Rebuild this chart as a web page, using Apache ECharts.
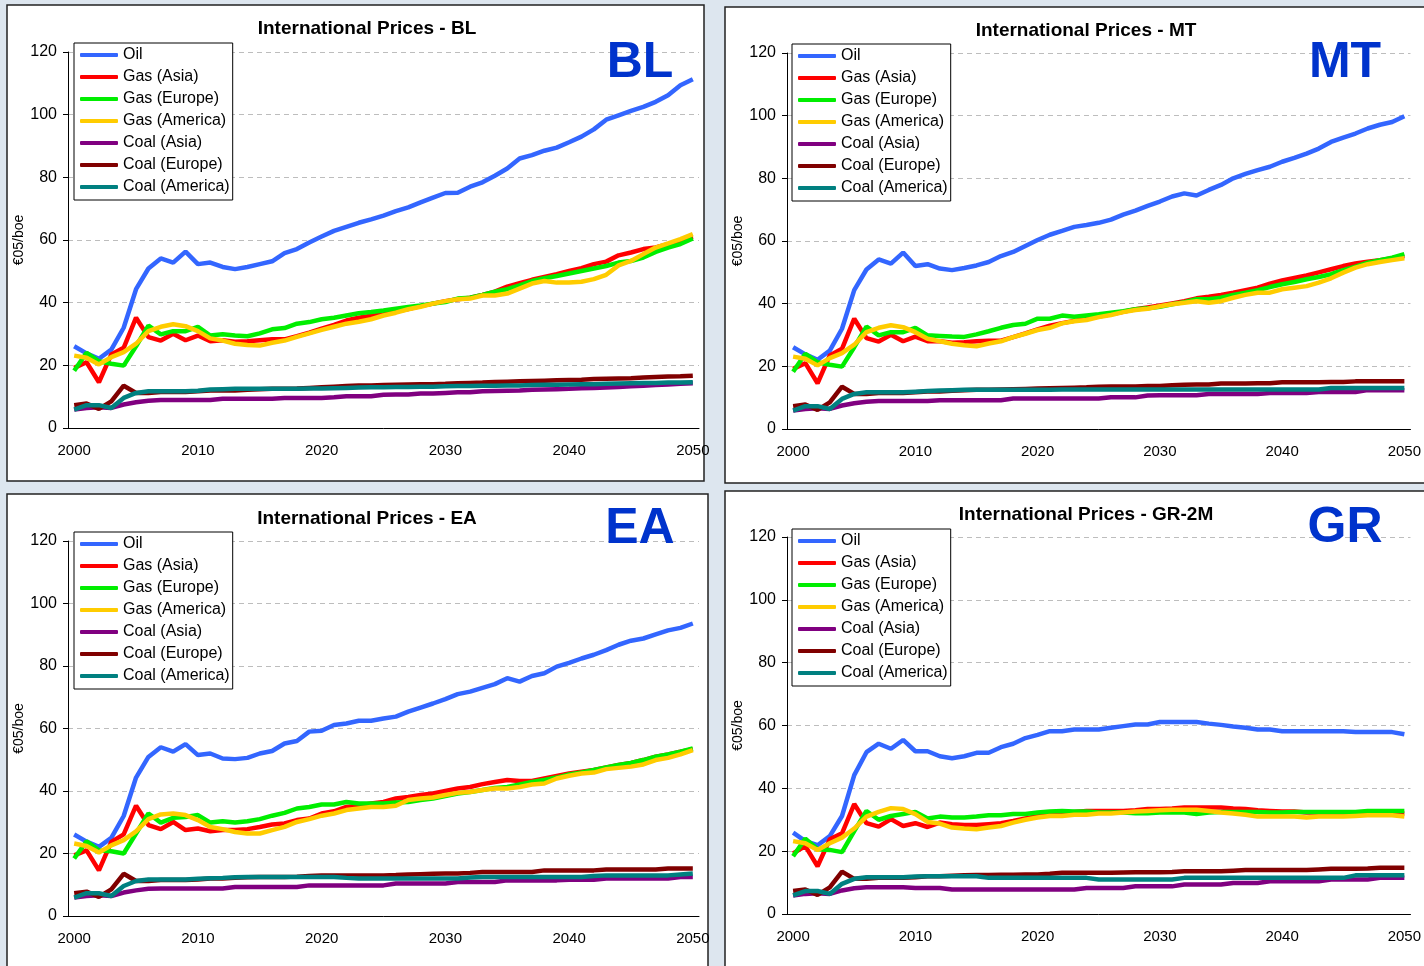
<!DOCTYPE html>
<html>
<head>
<meta charset="utf-8">
<script src="https://cdn.jsdelivr.net/npm/echarts@6/dist/echarts.min.js"></script>
<style>
  html, body { margin: 0; padding: 0; background: #dde6ef; }
  #chart { width: 1424px; height: 966px; }
</style>
</head>
<body>
<div id="chart"></div>
<script>
// years on the category axis
const years = ['2000','2001','2002','2003','2004','2005','2006','2007','2008','2009',
  '2010','2011','2012','2013','2014','2015','2016','2017','2018','2019',
  '2020','2021','2022','2023','2024','2025','2026','2027','2028','2029',
  '2030','2031','2032','2033','2034','2035','2036','2037','2038','2039',
  '2040','2041','2042','2043','2044','2045','2046','2047','2048','2049','2050'];

const seriesNames = ['Oil', 'Gas (Asia)', 'Gas (Europe)', 'Gas (America)', 'Coal (Asia)', 'Coal (Europe)', 'Coal (America)'];
const seriesColors = ['#3366ff', '#ff0000', '#00ee00', '#ffcc00', '#800080', '#800000', '#008080'];

// ---- BL ----
const blOil = [26.1,23.8,22.1,25,32,44.3,50.9,54.1,52.8,56.3,52.3, 52.8,51.4,50.7,51.4,52.3,53.2,55.8,57.1,59.2,61.1, 62.9,64.2,65.5,66.6,67.8,69.2,70.4,72,73.5,75, 75.1,77,78.4,80.5,82.8,86,87.1,88.5,89.5,91.2, 93,95.3,98.4,99.8,101.2,102.5,104.1,106.2,109.4,111.3];
const blGasAsia = [19.2,21,14.6,23.5,25.6,35.2,29,27.9,30.1,28,29.5, 27.7,28,27.5,27.7,28,28.3,28.3,29.3,30.4,31.7, 32.9,34.3,35.2,35.8,36.3,37.2,38,38.9,39.7,40.5, 41.1,41.6,42.5,43.5,45.1,46.2,47.3,48.2,49.1,50.1, 51,52.3,53.1,55.1,56,57.1,57.6,58.7,59.7,61.1];
const blGasEurope = [18.3,24,21.3,20.5,19.9,26.1,32.7,29.9,30.9,30.9,32.3, 29.5,29.9,29.5,29.3,30.2,31.5,31.9,33.3,33.8,34.7, 35.2,35.9,36.6,37,37.5,38.1,38.6,39.1,39.7,40.2, 41.3,41.6,42.5,43.5,44.3,45.5,46.9,47.8,48.5,49.3, 50.1,50.9,51.7,52.8,53.3,54.4,56.2,57.6,58.7,60.5];
const blGasAmerica = [23.1,22.4,20.3,22.6,24.2,26.9,30.9,32.3,33.1,32.5,30.9, 28.6,27.9,26.9,26.5,26.3,27.2,27.9,29.1,30.2,31.3, 32.3,33.3,33.9,34.7,35.9,36.8,37.9,38.7,39.7,40.5, 41.1,41.3,42.3,42.3,42.9,44.5,46.1,46.9,46.4,46.4, 46.7,47.5,48.9,51.9,53.3,55.5,57.6,58.9,60.3,61.9];
const blCoalAsia = [5.9,6.4,6.6,6.4,7.5,8.2,8.7,8.9,8.9,8.9,8.9, 8.9,9.3,9.3,9.3,9.3,9.3,9.6,9.6,9.6,9.6, 9.8,10.1,10.1,10.1,10.6,10.7,10.7,11,11,11.2, 11.4,11.4,11.7,11.8,11.9,12,12.2,12.3,12.4,12.5, 12.7,12.8,12.9,13.1,13.3,13.5,13.7,13.9,14.1,14.3];
const blCoalEurope = [7.3,7.8,6.1,8.5,13.5,11.2,11.2,11.5,11.5,11.5,11.7, 12,12,12,12.2,12.4,12.5,12.5,12.6,12.8,13, 13.2,13.4,13.6,13.6,13.7,13.8,13.9,14,14,14.1, 14.3,14.4,14.5,14.7,14.8,14.9,15,15.1,15.2,15.3, 15.4,15.6,15.7,15.8,15.9,16.1,16.3,16.4,16.5,16.7];
const blCoalAmerica = [5.9,7.3,7.3,6.4,9.6,11.2,11.7,11.7,11.7,11.7,11.9, 12.3,12.4,12.5,12.5,12.5,12.5,12.5,12.5,12.6,12.6, 12.7,12.8,12.9,13,13,13.1,13.1,13.2,13.2,13.3, 13.4,13.4,13.5,13.5,13.6,13.6,13.7,13.8,13.8,13.9, 14,14,14.1,14.2,14.3,14.4,14.4,14.5,14.5,14.6];

// ---- MT ----
const mtOil = [26.1,23.8,22.1,25,32,44.3,50.9,54.1,52.8,56.3,52, 52.6,51.2,50.7,51.4,52.2,53.3,55.2,56.5,58.4,60.3, 62,63.2,64.5,65.1,65.8,66.8,68.4,69.7,71.2,72.6, 74.2,75.2,74.5,76.3,77.9,80,81.4,82.6,83.7,85.3, 86.5,87.9,89.5,91.6,93,94.3,95.9,97.1,98,99.8];
const mtGasAsia = [19.2,21,14.6,23.5,25.6,35.2,29,27.9,30.1,28,29.5, 28,28,27.5,27.7,28,28.2,28.2,29.3,30.5,31.8, 33,33.8,34.5,35.2,35.9,36.6,37.4,38.2,38.8,39.4, 40.1,40.8,41.7,42.2,42.8,43.5,44.3,45.1,46.4,47.4, 48.2,49,50,51,52,52.8,53.4,53.9,54.5,55.2];
const mtGasEurope = [18.3,24,21.3,20.5,19.9,26.1,32.7,29.9,30.9,30.9,32.3, 29.9,29.7,29.5,29.4,30.2,31.2,32.3,33.2,33.6,35.2, 35.2,36.2,35.8,36.2,36.6,37.1,37.6,38.2,38.5,39, 39.8,40.5,41.4,41.4,41.9,42.8,43.5,44.3,45.3,46.2, 46.9,47.8,48.5,49.4,50.7,51.8,53.1,53.9,54.7,55.8];
const mtGasAmerica = [23.1,22.4,20.3,22.6,24.2,26.9,30.9,32.3,33.1,32.5,30.9, 28.8,28,27.2,26.7,26.4,27.3,28,29.3,30.4,31.6, 32.3,33.7,34.4,34.8,35.7,36.4,37.3,38,38.4,39.2, 39.8,40.3,40.8,40.3,40.8,41.9,42.8,43.5,43.5,44.6, 45.1,45.6,46.7,48.1,49.9,51.5,52.6,53.3,53.9,54.5];
const mtCoalAsia = [5.9,6.4,6.6,6.4,7.5,8.2,8.7,8.9,8.9,8.9,8.9, 8.9,9.2,9.2,9.2,9.2,9.2,9.2,9.7,9.7,9.7, 9.7,9.7,9.7,9.7,9.7,10.1,10.1,10.1,10.7,10.8, 10.8,10.8,10.8,11.2,11.2,11.2,11.2,11.2,11.5,11.5, 11.5,11.5,11.8,11.8,11.8,11.8,12.4,12.4,12.4,12.4];
const mtCoalEurope = [7.3,7.8,6.1,8.5,13.5,11.2,11.2,11.5,11.5,11.5,11.7, 12,12,12.2,12.4,12.5,12.5,12.6,12.7,12.8,12.9, 13,13.1,13.2,13.3,13.5,13.6,13.6,13.6,13.7,13.7, 14,14.1,14.2,14.2,14.5,14.5,14.5,14.6,14.6,14.9, 14.9,14.9,14.9,15,15,15.2,15.2,15.2,15.2,15.2];
const mtCoalAmerica = [5.9,7.3,7.3,6.4,9.6,11.2,11.7,11.7,11.7,11.7,11.9, 12.1,12.3,12.4,12.5,12.5,12.5,12.5,12.5,12.5,12.5, 12.5,12.6,12.6,12.6,12.6,12.6,12.6,12.6,12.6,12.6, 12.6,12.6,12.6,12.6,12.6,12.6,12.6,12.6,12.6,12.6, 12.6,12.6,12.6,13.1,13.1,13.1,13.1,13.1,13.1,13.1];

// ---- EA ----
const eaOil = [26.1,23.8,22.1,25,32,44.3,50.9,54,52.6,55,51.5, 52,50.4,50.2,50.6,52,52.8,55.2,56,59,59.3, 61.1,61.6,62.5,62.5,63.2,63.8,65.4,66.7,68,69.4, 71,71.8,73,74.2,76.1,75,76.8,77.7,79.8,81, 82.4,83.6,85.1,86.8,88.1,88.8,90.1,91.4,92.2,93.6];
const eaGasAsia = [19.4,21,14.6,23.7,26.1,35.3,29.1,27.8,30.1,27.5,28, 27.1,27.5,27.5,27.8,28.5,29.3,29.6,30.7,31.2,32.8, 33.5,34.9,35.3,36,36.5,37.6,38.1,38.7,39.2,40, 40.8,41.3,42.2,42.9,43.5,43.2,43.2,44,44.8,45.6, 46.2,46.7,47.5,48.3,49,49.9,51,51.7,52.6,53.4];
const eaGasEurope = [18.4,23.9,21,20.7,20,26.4,32.8,29.9,31.4,31.7,32.3, 29.9,30.3,29.9,30.3,31,32.1,33,34.4,34.9,35.7, 35.7,36.5,36,36,36,36.3,36.5,37.1,37.6,38.4, 39.2,39.7,40.3,41,41.3,42.1,42.9,43.5,44.3,45.3, 45.9,46.7,47.5,48.3,49,49.9,51,51.7,52.6,53.6];
const eaGasAmerica = [23.2,22.4,20.3,22.6,24.3,27.1,31,32.5,32.8,32.3,30.7, 28.5,27.8,26.9,26.4,26.4,27.5,28.5,30.1,31,32.1, 32.8,33.9,34.4,34.9,34.9,35.3,37.1,37.6,37.9,38.7, 39.4,39.7,40.3,40.8,40.8,41.3,42.1,42.4,44,44.9, 45.6,45.9,47,47.4,47.8,48.5,49.9,50.6,51.7,53.1];
const eaCoalAsia = [5.9,6.4,6.6,6.4,7.5,8.2,8.7,8.8,8.8,8.8,8.8, 8.8,8.8,9.3,9.3,9.3,9.3,9.3,9.3,9.8,9.8, 9.8,9.8,9.8,9.8,9.8,10.4,10.4,10.4,10.4,10.4, 10.9,10.9,10.9,10.9,11.4,11.4,11.4,11.4,11.4,11.6, 11.6,11.6,12,12,12,12,12,12,12.5,12.5];
const eaCoalEurope = [7.3,7.8,6.1,8.5,13.5,11.2,11.2,11.5,11.5,11.5,11.7, 12,12,12.2,12.4,12.5,12.5,12.5,12.6,12.8,13, 13,13,13,13,13,13.1,13.3,13.4,13.5,13.6, 13.6,13.8,14.1,14.1,14.1,14.1,14.1,14.6,14.6,14.6, 14.6,14.6,14.9,14.9,14.9,14.9,14.9,15.2,15.2,15.2];
const eaCoalAmerica = [5.9,7.3,7.3,6.4,9.6,11.2,11.7,11.7,11.7,11.7,11.9, 12.1,12.2,12.4,12.5,12.5,12.5,12.5,12.5,12.5,12.5, 12.5,12.2,12,12,12,12,12,12,12,12, 12,12.3,12.5,12.5,12.5,12.5,12.5,12.5,12.5,12.5, 12.5,12.8,13,13,13,13,13,13,13.3,13.6];

// ---- GR-2M ----
const grOil = [25.9,23.2,21.9,24.8,31.2,44.2,51.5,54.2,52.6,55.4,51.8, 51.8,50.2,49.6,50.2,51.3,51.3,53.1,54.2,56,57, 58.2,58.2,58.7,58.7,58.7,59.3,59.8,60.3,60.3,61.1, 61.1,61.1,61.1,60.6,60.2,59.7,59.3,58.7,58.7,58.2, 58.2,58.2,58.2,58.2,58.2,57.9,57.9,57.9,57.9,57.2];
const grGasAsia = [19.3,21.6,15.2,23.8,25.7,35,28.9,27.8,30.2,28,28.9, 27.7,29.1,28.6,28.3,28.3,28.6,28.9,29.6,30.4,31.2, 31.8,32,32.5,32.8,32.8,32.8,32.8,33,33.4,33.4, 33.6,33.9,33.9,33.9,33.9,33.6,33.4,33,32.8,32.6, 32.6,32.3,32.3,32.3,32.3,32.3,32.1,32.1,32.1,32];
const grGasEurope = [18.4,24,20.6,20.4,19.7,26.4,32.8,30,31.2,31.8,32.5, 30.4,31,30.7,30.7,31,31.4,31.4,31.8,31.8,32.3, 32.6,32.8,32.6,32.6,32.3,32.3,32.3,32.1,32.1,32.3, 32.3,32.3,31.8,32.3,32.5,32.5,32.5,32.5,32.3,32.3, 32.5,32.5,32.5,32.5,32.5,32.5,32.8,32.8,32.8,32.8];
const grGasAmerica = [23.2,22.5,20.4,22.5,24.3,27.2,31,32.5,33.7,33.4,31.8, 29.3,28.8,27.5,27.2,27,27.5,28,29.1,30,30.7, 31.2,31.2,31.6,31.6,32,32,32.3,32.6,32.8,33, 33.2,33.2,33.2,32.8,32.3,32,31.6,31,31,31, 31,30.7,31,31,31,31.2,31.4,31.4,31.4,31];
const grCoalAsia = [5.9,6.4,6.6,6.4,7.5,8.2,8.5,8.5,8.5,8.5,8.3, 8.3,8.3,7.8,7.8,7.8,7.8,7.8,7.8,7.8,7.8, 7.8,7.8,7.8,8.3,8.3,8.3,8.3,8.8,8.8,8.8, 8.8,9.4,9.4,9.4,9.4,9.9,9.9,9.9,10.4,10.4, 10.4,10.4,10.4,11,11,11,11,11.5,11.5,11.5];
const grCoalEurope = [7.3,7.8,6.1,8.5,13.5,11.2,11.2,11.5,11.5,11.5,11.7, 12,12,12.2,12.3,12.4,12.4,12.5,12.5,12.6,12.6, 12.8,13.1,13.1,13.1,13.1,13.1,13.2,13.3,13.3,13.3, 13.4,13.6,13.6,13.6,13.6,13.8,14,14,14,14, 14,14,14.2,14.4,14.4,14.4,14.5,14.7,14.7,14.7];
const grCoalAmerica = [5.9,7.3,7.3,6.4,9.6,11.2,11.7,11.7,11.7,11.7,11.9, 12,12,12,12,12,11.5,11.5,11.5,11.5,11.5, 11.5,11.5,11.5,11.5,11,11,11,11,11,11, 11,11.5,11.5,11.5,11.5,11.5,11.5,11.5,11.5,11.5, 11.5,11.5,11.5,11.5,11.5,12.3,12.3,12.3,12.3,12.3];

const FONT = "Arial, 'Liberation Sans', sans-serif";

const panels = [
  { title: 'International Prices - BL', tag: 'BL', box: [7, 5, 697, 476], titleAt: [367, 29], tagAt: [640, 63],
    grid: { left: 68, top: 52, width: 631, height: 376 }, legend: [74, 43],
    data: [blOil, blGasAsia, blGasEurope, blGasAmerica, blCoalAsia, blCoalEurope, blCoalAmerica] },
  { title: 'International Prices - MT', tag: 'MT', box: [725, 7, 720, 476], titleAt: [1086, 31], tagAt: [1345, 63],
    grid: { left: 787, top: 53, width: 629, height: 376 }, legend: [792, 44],
    data: [mtOil, mtGasAsia, mtGasEurope, mtGasAmerica, mtCoalAsia, mtCoalEurope, mtCoalAmerica] },
  { title: 'International Prices - EA', tag: 'EA', box: [7, 494, 701, 500], titleAt: [367, 519], tagAt: [640, 529],
    grid: { left: 68, top: 541, width: 631, height: 375 }, legend: [74, 532],
    data: [eaOil, eaGasAsia, eaGasEurope, eaGasAmerica, eaCoalAsia, eaCoalEurope, eaCoalAmerica] },
  { title: 'International Prices - GR-2M', tag: 'GR', box: [725, 491, 720, 500], titleAt: [1086, 515], tagAt: [1345, 528],
    grid: { left: 787, top: 537, width: 629, height: 377 }, legend: [792, 529],
    data: [grOil, grGasAsia, grGasEurope, grGasAmerica, grCoalAsia, grCoalEurope, grCoalAmerica] }
];

const chart = echarts.init(document.getElementById('chart'));

const graphic = [];
panels.forEach(p => {
  graphic.push({
    type: 'rect', z: -10, silent: true,
    shape: { x: p.box[0], y: p.box[1], width: p.box[2], height: p.box[3] },
    style: { fill: '#fff', stroke: '#222', lineWidth: 1.5 }
  });
  graphic.push({
    type: 'text', z: 5, silent: true, x: p.titleAt[0], y: p.titleAt[1],
    style: { text: p.title, font: 'bold 19px ' + FONT, fill: '#000',
      textAlign: 'center', align: 'center', textVerticalAlign: 'middle', verticalAlign: 'middle' }
  });
  graphic.push({
    type: 'text', z: 5, silent: true, x: p.tagAt[0], y: p.tagAt[1],
    style: { text: p.tag, font: 'bold 50px ' + FONT, fill: '#0033cc',
      textAlign: 'center', align: 'center', textVerticalAlign: 'middle', verticalAlign: 'middle' }
  });
});

const option = {
  animation: false,
  backgroundColor: '#dde6ef',
  graphic: graphic,
  grid: panels.map(p => p.grid),
  legend: panels.map(p => ({
    data: seriesNames,
    orient: 'vertical',
    left: p.legend[0], top: p.legend[1],
    padding: [4, 3, 5, 6],
    itemGap: 6,
    itemWidth: 38, itemHeight: 4,
    icon: 'roundRect',
    selectedMode: false,
    backgroundColor: '#fff',
    borderColor: '#000', borderWidth: 1,
    textStyle: { fontSize: 16, lineHeight: 16, color: '#000', fontFamily: FONT }
  })),
  xAxis: panels.map((p, i) => ({
    type: 'category', gridIndex: i, data: years, boundaryGap: true,
    axisLine: { lineStyle: { color: '#000', width: 1 } },
    axisTick: { interval: 9, length: 5, lineStyle: { color: '#000' } },
    axisLabel: { interval: 9, fontSize: 15, color: '#000', margin: 15, fontFamily: FONT },
    splitLine: { show: false }
  })),
  yAxis: panels.map((p, i) => ({
    type: 'value', gridIndex: i, min: 0, max: 120, interval: 20,
    name: '€05/boe', nameLocation: 'middle', nameGap: 40,
    nameTextStyle: { fontSize: 14, color: '#000', fontFamily: FONT },
    axisLine: { show: true, lineStyle: { color: '#000', width: 1 } },
    axisTick: { show: true, length: 5, lineStyle: { color: '#000' } },
    axisLabel: { fontSize: 16, color: '#000', margin: 11, fontFamily: FONT },
    splitLine: { show: true, lineStyle: { color: '#bdbdbd', type: [5, 4] } }
  })),
  series: []
};

panels.forEach((p, i) => {
  p.data.forEach((vals, j) => {
    option.series.push({
      type: 'line', name: seriesNames[j], xAxisIndex: i, yAxisIndex: i,
      data: vals, symbol: 'none', smooth: false,
      lineStyle: { width: 4.5, color: seriesColors[j] },
      itemStyle: { color: seriesColors[j] }
    });
  });
});

chart.setOption(option);
</script>
</body>
</html>
